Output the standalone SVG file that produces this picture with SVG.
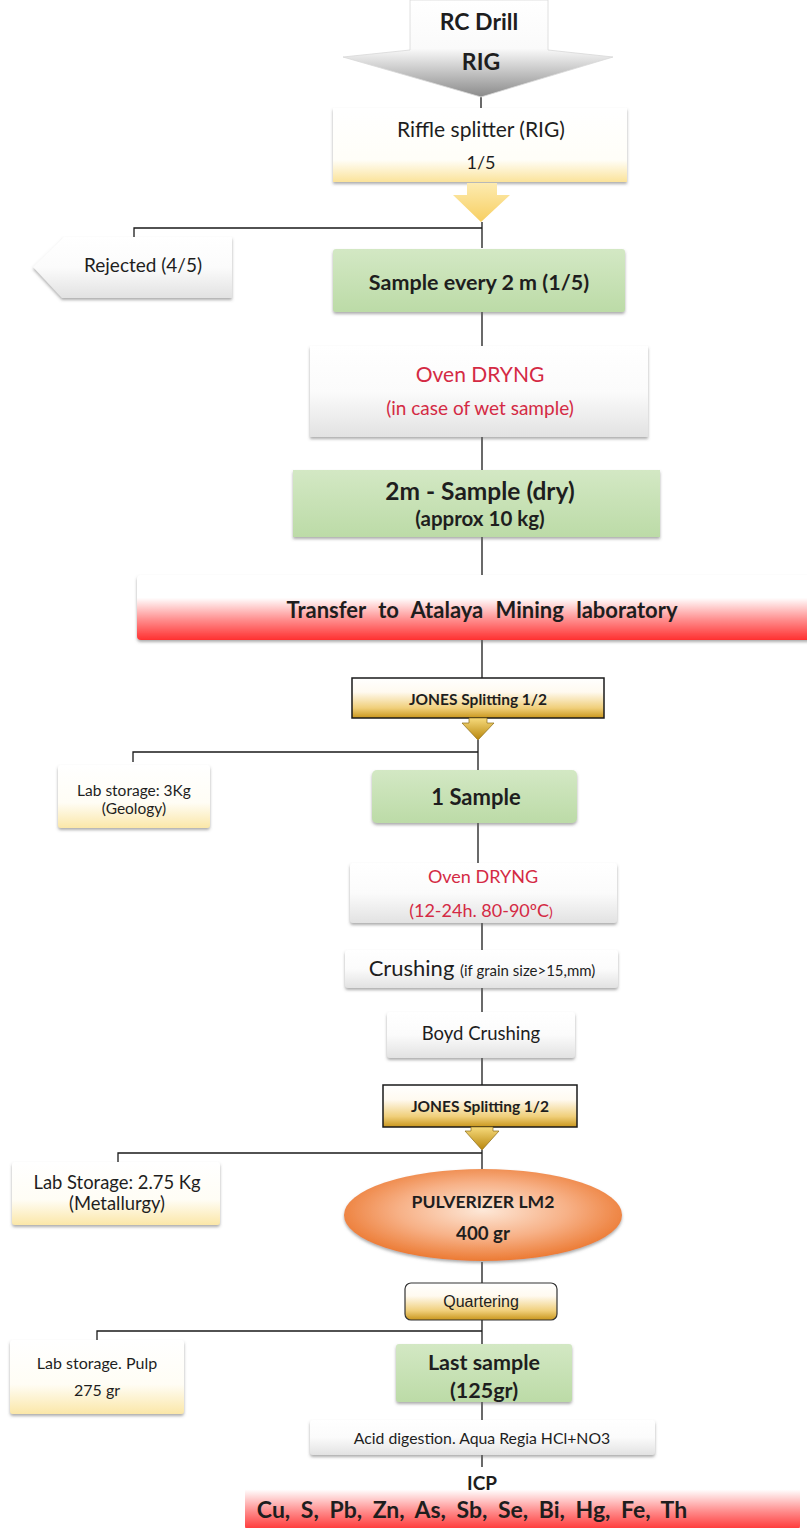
<svg xmlns="http://www.w3.org/2000/svg" width="807" height="1528" viewBox="0 0 807 1528">
<style>
text{font-family:Lato,"Open Sans","Liberation Sans",sans-serif;fill:#1e1e1e;text-anchor:middle}
.b{font-weight:bold}
.red{fill:#d42a44}
.ar{font-family:"Liberation Sans",Arial,sans-serif}
.ln{fill:none;stroke:#1a1a1a;stroke-width:1.3}
</style>
<defs>
<filter id="sh" x="-10%" y="-10%" width="120%" height="140%"><feDropShadow dx="0" dy="2" stdDeviation="1.5" flood-color="#666" flood-opacity="0.55"/></filter>
<linearGradient id="gRC" x1="0" y1="0" x2="0" y2="1"><stop offset="0" stop-color="#fff"/><stop offset="0.5" stop-color="#fafafa"/><stop offset="1" stop-color="#8a8a8a"/></linearGradient>
<linearGradient id="gCream" x1="0" y1="0" x2="0" y2="1"><stop offset="0" stop-color="#fff"/><stop offset="0.6" stop-color="#fffdf5"/><stop offset="1" stop-color="#fbe7a8"/></linearGradient>
<linearGradient id="gRiffle" x1="0" y1="0" x2="0" y2="1"><stop offset="0" stop-color="#fff"/><stop offset="0.7" stop-color="#fffef8"/><stop offset="1" stop-color="#fbe39a"/></linearGradient>
<linearGradient id="gGrey" x1="0" y1="0" x2="0" y2="1"><stop offset="0" stop-color="#fff"/><stop offset="0.5" stop-color="#fbfbfb"/><stop offset="1" stop-color="#e2e2e2"/></linearGradient>
<linearGradient id="gGreen" x1="0" y1="0" x2="0" y2="1"><stop offset="0" stop-color="#d3e8c4"/><stop offset="1" stop-color="#bcdba7"/></linearGradient>
<linearGradient id="gRed" x1="0" y1="0" x2="0" y2="1"><stop offset="0" stop-color="#fff"/><stop offset="0.35" stop-color="#fff"/><stop offset="0.7" stop-color="#ff8a8a"/><stop offset="1" stop-color="#ff3030"/></linearGradient>
<linearGradient id="gGold" x1="0" y1="0" x2="0" y2="1"><stop offset="0" stop-color="#fff"/><stop offset="0.35" stop-color="#fffaf0"/><stop offset="0.75" stop-color="#f0cf7a"/><stop offset="1" stop-color="#c9961c"/></linearGradient>
<linearGradient id="gArrowY" x1="0" y1="0" x2="0" y2="1"><stop offset="0" stop-color="#fdebb0"/><stop offset="1" stop-color="#f7cf62"/></linearGradient>
<linearGradient id="gArrowG" x1="0" y1="0" x2="0" y2="1"><stop offset="0" stop-color="#f6da7c"/><stop offset="1" stop-color="#b8860b"/></linearGradient>
<radialGradient id="gOrange" cx="50%" cy="45%" r="55%"><stop offset="0" stop-color="#fde8d8"/><stop offset="0.55" stop-color="#f7b187"/><stop offset="1" stop-color="#ec7a33"/></radialGradient>
</defs>

<g id="connectors">
<path class="ln" d="M481,97 V108"/>
<path class="ln" d="M482,222 V248"/>
<path class="ln" d="M134,237 V228 H482"/>
<path class="ln" d="M482,312 V346"/>
<path class="ln" d="M482,437 V470"/>
<path class="ln" d="M482,537 V575"/>
<path class="ln" d="M482,640 V678"/>
<path class="ln" d="M478,740 V770"/>
<path class="ln" d="M133,762 V752 H478"/>
<path class="ln" d="M478,823 V863"/>
<path class="ln" d="M482,923 V950"/>
<path class="ln" d="M482,988 V1012"/>
<path class="ln" d="M482,1058 V1085"/>
<path class="ln" d="M482,1150 V1172"/>
<path class="ln" d="M118,1162 V1153 H482"/>
<path class="ln" d="M482,1262 V1283"/>
<path class="ln" d="M482,1320 V1344"/>
<path class="ln" d="M97,1340 V1331 H482"/>
<path class="ln" d="M482,1402 V1420"/>
<path class="ln" d="M482,1455 V1467"/>
</g>

<g id="rc-drill">
<path d="M410,0 H548 V50 L613,57 L481,97 L343,57 L410,50 Z" fill="url(#gRC)" stroke="#d8d8d8" stroke-width="0.8"/>
<text class="b" x="479" y="30" font-size="23">RC Drill</text>
<text class="b" x="481" y="70" font-size="23">RIG</text>
</g>

<g id="riffle">
<rect x="333" y="108" width="294" height="74" fill="url(#gRiffle)" filter="url(#sh)"/>
<text x="481" y="137" font-size="21">Riffle splitter (RIG)</text>
<text x="481" y="169" font-size="18">1/5</text>
<path d="M467,183 H497 V195 H510 L481,222 L453,195 H467 Z" fill="url(#gArrowY)"/>
</g>

<g id="rejected">
<path d="M64,237 H232 V298 H62 L33,267 Z" fill="url(#gGrey)" filter="url(#sh)"/>
<text x="143" y="272" font-size="19">Rejected (4/5)</text>
</g>

<g id="sample-2m">
<rect x="333" y="249" width="292" height="63" rx="3" fill="url(#gGreen)" filter="url(#sh)"/>
<text class="b" x="479" y="290" font-size="21.5">Sample every 2 m (1/5)</text>
</g>

<g id="oven1">
<rect x="310" y="346" width="338" height="91" fill="url(#gGrey)" filter="url(#sh)"/>
<text class="red" x="480" y="382" font-size="21">Oven DRYNG</text>
<text class="red" x="480" y="415" font-size="19">(in case of wet sample)</text>
</g>

<g id="sample-dry">
<rect x="293" y="470" width="367" height="67" fill="url(#gGreen)" filter="url(#sh)"/>
<text class="b" x="480" y="500" font-size="24.5">2m - Sample (dry)</text>
<text class="b" x="480" y="526" font-size="20.5">(approx 10 kg)</text>
</g>

<g id="transfer">
<rect x="137" y="575" width="680" height="65" rx="4" fill="url(#gRed)" filter="url(#sh)"/>
<text class="b" x="482" y="618" font-size="22" word-spacing="7">Transfer to Atalaya Mining  laboratory</text>
</g>

<g id="jones1">
<rect x="352" y="678" width="252" height="40" fill="url(#gGold)" stroke="#1a1a1a" stroke-width="1.5"/>
<text class="b" x="478" y="705" font-size="15.5">JONES Splitting 1/2</text>
<path d="M469,718 H487 V723 H494 L478,740 L462,723 H469 Z" fill="url(#gArrowG)" stroke="#8a6a14" stroke-width="0.7"/>
</g>

<g id="lab-geology">
<rect x="58" y="765" width="152" height="63" rx="3" fill="url(#gCream)" filter="url(#sh)"/>
<text x="134" y="796" font-size="15.5">Lab storage: 3Kg</text>
<text x="134" y="814" font-size="15.5">(Geology)</text>
</g>

<g id="one-sample">
<rect x="372" y="770" width="205" height="53" rx="5" fill="url(#gGreen)" filter="url(#sh)"/>
<text class="b" x="476" y="805" font-size="22">1 Sample</text>
</g>

<g id="oven2">
<rect x="350" y="863" width="267" height="60" rx="3" fill="url(#gGrey)" filter="url(#sh)"/>
<text class="red" x="483" y="883" font-size="18">Oven DRYNG</text>
<text class="red" x="481" y="917" font-size="18">(12-24h. 80-90ºC<tspan font-size="14">)</tspan></text>
</g>

<g id="crushing">
<rect x="345" y="950" width="273" height="38" rx="3" fill="url(#gGrey)" filter="url(#sh)"/>
<text x="482" y="976" font-size="22">Crushing <tspan font-size="15">(if grain size&gt;15,mm)</tspan></text>
</g>

<g id="boyd">
<rect x="387" y="1012" width="188" height="46" rx="3" fill="url(#gGrey)" filter="url(#sh)"/>
<text x="481" y="1040" font-size="18.5">Boyd Crushing</text>
</g>

<g id="jones2">
<rect x="383" y="1085" width="194" height="42" fill="url(#gGold)" stroke="#1a1a1a" stroke-width="1.5"/>
<text class="b" x="480" y="1112" font-size="15.5">JONES Splitting 1/2</text>
<path d="M471,1127 H493 V1131 H499 L482,1150 L465,1131 H471 Z" fill="url(#gArrowG)" stroke="#8a6a14" stroke-width="0.7"/>
</g>

<g id="lab-metallurgy">
<rect x="12" y="1162" width="208" height="63" rx="3" fill="url(#gCream)" filter="url(#sh)"/>
<text x="117" y="1189" font-size="18.4">Lab Storage: 2.75 Kg</text>
<text x="117" y="1210" font-size="18.4">(Metallurgy)</text>
</g>

<g id="pulverizer">
<ellipse cx="483" cy="1215" rx="139" ry="46" fill="url(#gOrange)" filter="url(#sh)"/>
<text class="b" x="483" y="1208" font-size="17.6">PULVERIZER LM2</text>
<text class="b" x="483" y="1240" font-size="18.7">400 gr</text>
</g>

<g id="quartering">
<rect x="405" y="1283" width="152" height="37" rx="6" fill="url(#gGold)" stroke="#333" stroke-width="1.2"/>
<text class="ar" x="481" y="1307" font-size="16">Quartering</text>
</g>

<g id="lab-pulp">
<rect x="10" y="1340" width="174" height="74" rx="3" fill="url(#gCream)" filter="url(#sh)"/>
<text x="97" y="1369" font-size="16">Lab storage. Pulp</text>
<text x="97" y="1396" font-size="16">275 gr</text>
</g>

<g id="last-sample">
<rect x="396" y="1344" width="176" height="58" rx="3" fill="url(#gGreen)" filter="url(#sh)"/>
<text class="b" x="484" y="1370" font-size="21.5">Last sample</text>
<text class="b" x="484" y="1398" font-size="21.5">(125gr)</text>
</g>

<g id="acid">
<rect x="310" y="1420" width="345" height="35" rx="3" fill="url(#gGrey)" filter="url(#sh)"/>
<text x="482" y="1444" font-size="15.8">Acid digestion. Aqua Regia HCl+NO3</text>
</g>

<g id="icp">
<rect x="245" y="1467" width="555" height="64" rx="5" fill="url(#gRed)"/>
<text class="b" x="482" y="1490" font-size="19">ICP</text>
<text class="b" x="472" y="1518" font-size="23" word-spacing="5">Cu, S, Pb, Zn, As, Sb, Se, Bi, Hg, Fe, Th</text>
</g>
</svg>
